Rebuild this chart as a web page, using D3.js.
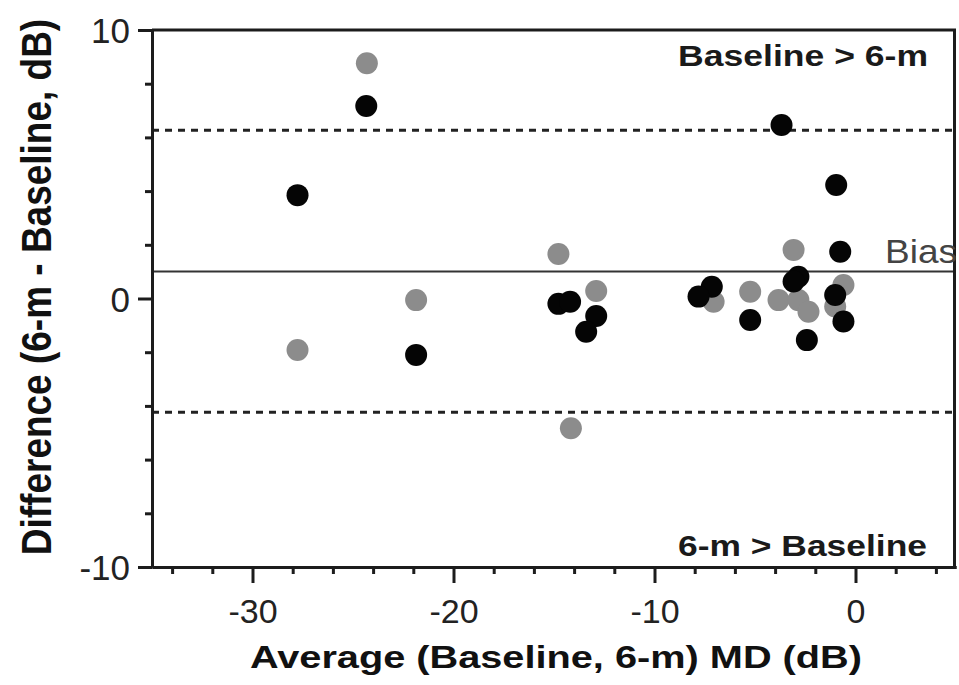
<!DOCTYPE html>
<html>
<head>
<meta charset="utf-8">
<script src="https://cdn.jsdelivr.net/npm/d3@7"></script>
<style>
  html, body { margin: 0; padding: 0; background: #fff; }
  svg { display: block; }
  text { font-family: "Liberation Sans", Arial, Helvetica, sans-serif; }
</style>
</head>
<body>
<svg id="chart" width="959" height="685"></svg>
<script>
// Bland-Altman data: average of baseline and 6-month MD (x) vs difference (y), in dB
const grayX = [-24.31, -27.76, -21.86, -14.78, -12.90, -14.16, -3.08, -7.06, -5.24, -3.83, -2.84, -2.34, -0.60, -1.01];
const grayY = [  8.76,  -1.92,  -0.06,   1.66,   0.28,  -4.83,  1.81, -0.12,  0.25, -0.06, -0.06, -0.49,  0.50, -0.30];

const blackX = [-24.34, -27.76, -21.86, -14.78, -14.20, -12.90, -13.40, -3.68, -0.96, -0.76, -2.84, -3.08, -7.15, -7.81, -5.24, -2.42, -1.01, -0.60];
const blackY = [  7.17,   3.85,  -2.10,  -0.20,  -0.12,  -0.65,  -1.24,  6.46,  4.23,  1.74,  0.81,  0.63,  0.44,  0.07, -0.80, -1.55,  0.13, -0.86];

// Bias and 95% limits of agreement
const bias = 1.01;
const upperLimit = 6.27;
const lowerLimit = -4.24;

// Axis ticks
const xMajorTicks = [-30, -20, -10, 0];
const xMinorTicks = [-34, -32, -28, -26, -24, -22, -18, -16, -14, -12, -8, -6, -4, -2, 2, 4];
const yMajorTicks = [-10, 0, 10];
const yMinorTicks = [-8, -6, -4, -2, 2, 4, 6, 8];

const xDomain = [-35, 5];
const yDomain = [-10, 10];

const xTitle = "Average (Baseline, 6-m) MD (dB)";
const yTitle = "Difference (6-m - Baseline, dB)";
const topNote = "Baseline > 6-m";
const bottomNote = "6-m > Baseline";
const biasLabel = "Bias";

const svg = d3.select("#chart");
const plotLeft = 152, plotRight = 956, plotTop = 30, plotBottom = 567;

const x = d3.scaleLinear().domain(xDomain).range([plotLeft, plotRight]);
const y = d3.scaleLinear().domain(yDomain).range([plotBottom, plotTop]);

const ink = "#1c1c1c";
const tickFmt = d => d3.format("d")(d).replace("\u2212", "-");

// Reference lines: limits of agreement (dotted) and bias (solid)
svg.append("g").selectAll("line")
  .data([upperLimit, lowerLimit])
  .join("line")
  .attr("x1", plotLeft).attr("x2", plotRight)
  .attr("y1", d => y(d)).attr("y2", d => y(d))
  .attr("stroke", "#222").attr("stroke-width", 3)
  .attr("stroke-dasharray", "7,6");

svg.append("line")
  .attr("x1", plotLeft).attr("x2", plotRight)
  .attr("y1", y(bias)).attr("y2", y(bias))
  .attr("stroke", "#333").attr("stroke-width", 2);

// Points: gray series beneath, black series on top
const grayPts = grayX.map((v, i) => ({ x: v, y: grayY[i] }));
const blackPts = blackX.map((v, i) => ({ x: v, y: blackY[i] }));

svg.append("g").selectAll("circle")
  .data(grayPts).join("circle")
  .attr("cx", d => x(d.x)).attr("cy", d => y(d.y))
  .attr("r", 11).attr("fill", "#8c8c8c");

svg.append("g").selectAll("circle")
  .data(blackPts).join("circle")
  .attr("cx", d => x(d.x)).attr("cy", d => y(d.y))
  .attr("r", 11).attr("fill", "#050505");

// Frame top and right
svg.append("line").attr("x1", plotLeft).attr("x2", plotRight).attr("y1", plotTop).attr("y2", plotTop)
  .attr("stroke", ink).attr("stroke-width", 3);
svg.append("line").attr("x1", plotRight - 1.5).attr("x2", plotRight - 1.5).attr("y1", plotTop).attr("y2", plotBottom)
  .attr("stroke", ink).attr("stroke-width", 3);

// X axis
const xMinor = svg.append("g").attr("transform", `translate(0,${plotBottom})`)
  .call(d3.axisBottom(x).tickValues(xMinorTicks).tickSize(7).tickSizeOuter(0).tickFormat(""));
const xMajor = svg.append("g").attr("transform", `translate(0,${plotBottom})`)
  .call(d3.axisBottom(x).tickValues(xMajorTicks).tickSize(16).tickSizeOuter(0).tickPadding(16).tickFormat(tickFmt));

// Y axis
const yMinor = svg.append("g").attr("transform", `translate(${plotLeft},0)`)
  .call(d3.axisLeft(y).tickValues(yMinorTicks).tickSize(7).tickSizeOuter(0).tickFormat(""));
const yMajor = svg.append("g").attr("transform", `translate(${plotLeft},0)`)
  .call(d3.axisLeft(y).tickValues(yMajorTicks).tickSize(14).tickSizeOuter(0).tickPadding(8).tickFormat(tickFmt));

[xMinor, xMajor, yMinor, yMajor].forEach(g => {
  g.select(".domain").attr("stroke", ink).attr("stroke-width", 3);
  g.selectAll(".tick line").attr("stroke", ink).attr("stroke-width", 3);
});

xMajor.selectAll(".tick text")
  .attr("font-size", 34).attr("fill", "#222")
  .attr("font-family", "'Liberation Sans', Arial, sans-serif")
  .attr("dy", "0.72em");

yMajor.selectAll(".tick text")
  .attr("font-size", 35).attr("fill", "#222")
  .attr("font-family", "'Liberation Sans', Arial, sans-serif")
  .attr("dy", "0.36em");

// Axis titles
svg.append("text")
  .attr("x", 556).attr("y", 668)
  .attr("text-anchor", "middle")
  .attr("font-size", 31).attr("font-weight", "bold").attr("fill", "#111")
  .attr("textLength", 612).attr("lengthAdjust", "spacingAndGlyphs")
  .text(xTitle);

// Vertical title: glyphs drawn taller across the axis via a perpendicular scale
svg.append("text")
  .attr("transform", "translate(51,287) rotate(-90) scale(1,1.14)")
  .attr("text-anchor", "middle")
  .attr("font-size", 37).attr("font-weight", "bold").attr("fill", "#111")
  .text(yTitle);

// Region notes
svg.append("text")
  .attr("x", 678).attr("y", 66)
  .attr("font-size", 29).attr("font-weight", "bold").attr("fill", "#1a1a1a")
  .attr("textLength", 250).attr("lengthAdjust", "spacingAndGlyphs")
  .text(topNote);

svg.append("text")
  .attr("x", 678).attr("y", 556)
  .attr("font-size", 29).attr("font-weight", "bold").attr("fill", "#1a1a1a")
  .attr("textLength", 249).attr("lengthAdjust", "spacingAndGlyphs")
  .text(bottomNote);

svg.append("text")
  .attr("x", 885).attr("y", y(bias) - 8)
  .attr("font-size", 33).attr("fill", "#444")
  .attr("textLength", 72).attr("lengthAdjust", "spacingAndGlyphs")
  .text(biasLabel);
</script>
</body>
</html>
